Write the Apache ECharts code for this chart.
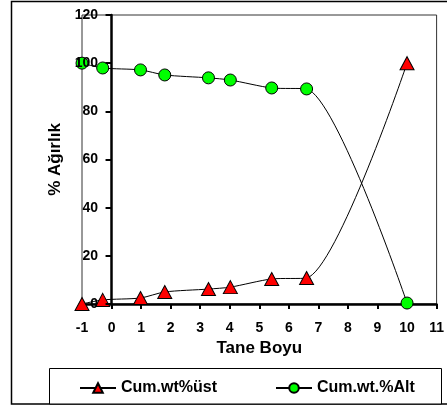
<!DOCTYPE html>
<html>
<head>
<meta charset="utf-8">
<script src="https://cdn.jsdelivr.net/npm/echarts@6/dist/echarts.min.js"></script>
<style>html,body{margin:0;padding:0;background:#fff}#c{width:447px;height:407px}</style>
</head>
<body>
<div id="c"></div>
<script>
var xValues = [-1, -0.3, 0.98, 1.8, 3.28, 4.02, 5.42, 6.6, 10];
var ustValues = [0, 1.7, 2.5, 5.0, 6.2, 7.0, 10.4, 10.8, 100];
var altValues = [100, 98, 97.2, 95.1, 93.9, 93.0, 89.7, 89.3, 0.4];
var xTicks = [-1, 0, 1, 2, 3, 4, 5, 6, 7, 8, 9, 10, 11];
var yTicks = [0, 20, 40, 60, 80, 100, 120];
var seriesNames = ['Cum.wt%üst', 'Cum.wt.%Alt'];
var xTitle = 'Tane Boyu';
var yTitle = '% Ağırlık';

function pairs(xs, ys) { return xs.map(function (x, i) { return [x, ys[i]]; }); }

var font = 'Arial, "Liberation Sans", sans-serif';
var chart = echarts.init(document.getElementById('c'), null, {renderer: 'canvas'});
chart.setOption({
  animation: false,
  backgroundColor: '#fff',
  graphic: [
    {type: 'rect', shape: {x: 11.5, y: 1.5, width: 445, height: 402.5}, style: {fill: 'none', stroke: '#000', lineWidth: 1.5}, z: 0},
    {type: 'rect', shape: {x: 49.5, y: 368.5, width: 392, height: 35.5}, style: {fill: '#fff', stroke: '#000', lineWidth: 1}, z: 1}
  ],
  grid: {left: 82, right: 8, top: 15, bottom: 103, show: true, borderColor: '#333', borderWidth: 1, backgroundColor: 'transparent'},
  legend: {
    data: [
      {name: seriesNames[0]},
      {name: seriesNames[1]}
    ],
    left: 74, top: 375, itemWidth: 36, itemHeight: 12, itemGap: 58,
    textStyle: {fontFamily: font, fontWeight: 'bold', fontSize: 16, color: '#000'},
    z: 5
  },
  xAxis: {
    type: 'value', min: xTicks[0], max: xTicks[xTicks.length - 1], interval: 1,
    name: xTitle, nameLocation: 'middle', nameGap: 34,
    nameTextStyle: {fontFamily: font, fontWeight: 'bold', fontSize: 17, color: '#000'},
    axisLine: {show: true, onZero: true, lineStyle: {color: '#000', width: 2.5}},
    axisTick: {show: true, length: 5, lineStyle: {color: '#000', width: 2}},
    axisLabel: {fontFamily: font, fontWeight: 'bold', fontSize: 14, color: '#000', margin: 17},
    splitLine: {show: false}
  },
  yAxis: {
    type: 'value', min: yTicks[0], max: yTicks[yTicks.length - 1], interval: 20,
    z: 5,
    name: yTitle, nameLocation: 'middle', nameGap: 18, nameRotate: 90,
    nameTextStyle: {fontFamily: font, fontWeight: 'bold', fontSize: 17, color: '#000'},
    axisLine: {show: true, onZero: true, lineStyle: {color: '#000', width: 2.5}},
    axisTick: {show: true, length: 6, lineStyle: {color: '#000', width: 2}},
    axisLabel: {fontFamily: font, fontWeight: 'bold', fontSize: 14, color: '#000', margin: -16},
    splitLine: {show: false}
  },
  series: [
    {
      name: seriesNames[0], type: 'line', data: pairs(xValues, ustValues),
      smooth: 0.25, clip: false, symbol: 'triangle', symbolSize: [14, 13],
      lineStyle: {color: '#000', width: 1},
      itemStyle: {color: '#ff0000', borderColor: '#000', borderWidth: 1},
      z: 3
    },
    {
      name: seriesNames[1], type: 'line', data: pairs(xValues, altValues),
      smooth: 0.25, clip: false, symbol: 'circle', symbolSize: 12,
      lineStyle: {color: '#000', width: 1},
      itemStyle: {color: '#00ff00', borderColor: '#000', borderWidth: 1},
      z: 3
    }
  ]
});
</script>
</body>
</html>
